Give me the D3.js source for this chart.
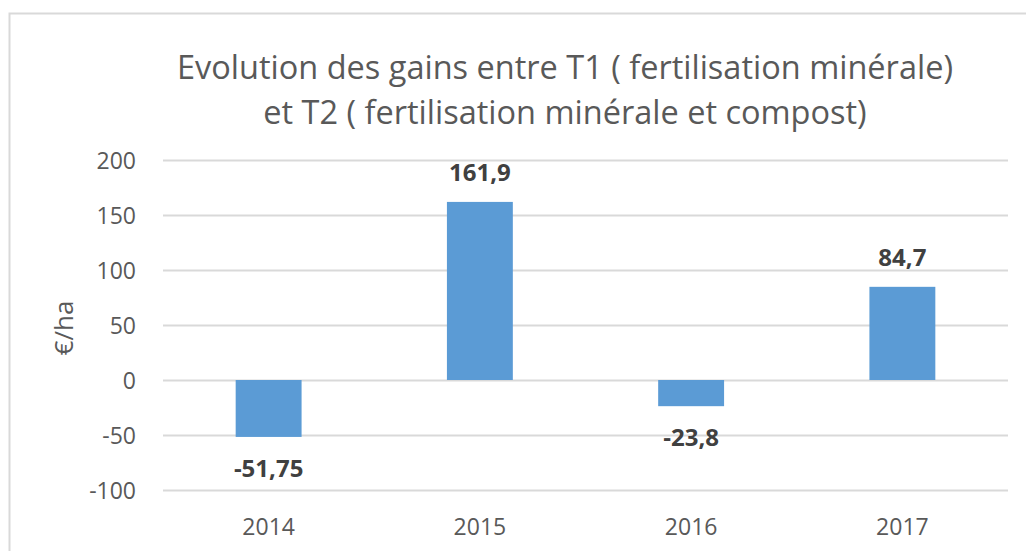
<!DOCTYPE html>
<html>
<head>
<meta charset="utf-8">
<script src="https://cdn.jsdelivr.net/npm/d3@7"></script>
<style>
  body { margin: 0; background: #fff; }
  text { font-family: "Open Sans", sans-serif; }
</style>
</head>
<body>
<div id="chart"></div>
<script>
const years = ["2014", "2015", "2016", "2017"]
const gains = [-51.75, 161.9, -23.8, 84.7]
const labels = ["-51,75", "161,9", "-23,8", "84,7"]
const yTicks = [-100, -50, 0, 50, 100, 150, 200]
const titleLines = ["Evolution des gains entre T1 ( fertilisation minérale)",
                    "et T2 ( fertilisation minérale et compost)"]

const width = 1026
const height = 551
const margin = {top: 160, right: 18, bottom: 61, left: 163}

const svg = d3.select("#chart")
  .append("svg")
    .attr("width", width)
    .attr("height", height)

// chart frame (right and bottom edges fall outside the picture)
svg.append("rect")
  .attr("x", 9.5).attr("y", 13.5)
  .attr("width", 1200).attr("height", 700)
  .attr("fill", "none")
  .attr("stroke", "#d9d9d9")
  .attr("stroke-width", 2)

const x = d3.scaleBand()
  .domain(years)
  .range([margin.left, width - margin.right])
  .paddingInner(0.688)
  .paddingOuter(0.344)

const y = d3.scaleLinear()
  .domain([-100, 200])
  .range([height - margin.bottom, margin.top])

// gridlines
svg.append("g")
  .selectAll("line")
  .data(yTicks)
  .enter()
  .append("line")
    .attr("x1", margin.left)
    .attr("x2", width - margin.right)
    .attr("y1", d => Math.round(y(d)) + 0.5)
    .attr("y2", d => Math.round(y(d)) + 0.5)
    .attr("stroke", "#d9d9d9")
    .attr("stroke-width", 2)

// y axis labels
const yAxis = svg.append("g")
  .attr("transform", "translate(" + (margin.left - 27) + ",0)")
  .call(d3.axisLeft(y).tickValues(yTicks).tickSize(0).tickPadding(0)
    .tickFormat(d => String(d)))
yAxis.select(".domain").remove()
yAxis.selectAll("text")
  .attr("font-size", 23)
  .attr("font-family", "Open Sans")
  .attr("fill", "#595959")
  .attr("dy", "0.35em")

// x axis labels
const xAxis = svg.append("g")
  .attr("transform", "translate(0," + y(-100) + ")")
  .call(d3.axisBottom(x).tickSize(0).tickPadding(0))
xAxis.select(".domain").remove()
xAxis.selectAll("text")
  .attr("font-size", 23)
  .attr("font-family", "Open Sans")
  .attr("fill", "#595959")
  .attr("y", 45)
  .attr("dy", 0)

// bars
svg.append("g")
  .selectAll("rect")
  .data(gains)
  .enter()
  .append("rect")
    .attr("x", (d, i) => x(years[i]))
    .attr("width", x.bandwidth())
    .attr("y", d => y(Math.max(0, d)))
    .attr("height", d => Math.abs(y(d) - y(0)))
    .attr("fill", "#5b9bd5")

// value labels
svg.append("g")
  .selectAll("text")
  .data(gains)
  .enter()
  .append("text")
    .attr("x", (d, i) => x(years[i]) + x.bandwidth() / 2)
    .attr("y", d => d >= 0 ? y(d) - 21 : y(d) + 40)
    .attr("text-anchor", "middle")
    .attr("font-size", 24)
    .attr("font-weight", "bold")
    .attr("fill", "#404040")
    .text((d, i) => labels[i])

// title
svg.append("g")
  .selectAll("text")
  .data(titleLines)
  .enter()
  .append("text")
    .attr("x", 565)
    .attr("y", (d, i) => 79 + i * 45)
    .attr("text-anchor", "middle")
    .attr("font-size", 32.5)
    .attr("fill", "#595959")
    .text(d => d)

// y axis title
svg.append("text")
  .attr("transform", "translate(73," + 328 + ") rotate(-90)")
  .attr("text-anchor", "middle")
  .attr("font-size", 26)
  .attr("fill", "#595959")
  .text("€/ha")
</script>
</body>
</html>
